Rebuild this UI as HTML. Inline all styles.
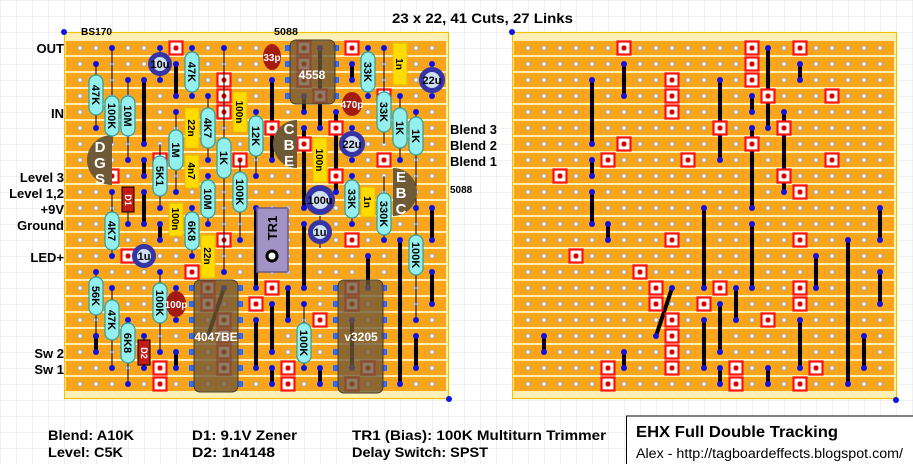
<!DOCTYPE html>
<html><head><meta charset="utf-8"><style>
html,body{margin:0;padding:0;background:#fff;}
svg{display:block;font-family:"Liberation Sans",sans-serif;}
</style></head><body>
<svg width="913" height="464" viewBox="0 0 913 464" xmlns="http://www.w3.org/2000/svg">
<defs>
<pattern id="grid" patternUnits="userSpaceOnUse" x="0" y="0" width="16" height="16"><path d="M0 0H16M0 0V16" stroke="#e2e2e2" stroke-width="1" fill="none"/></pattern>
<pattern id="strips" patternUnits="userSpaceOnUse" x="0" y="-8" width="16" height="16"><rect x="0" y="1" width="16" height="14" fill="#fba51a"/></pattern>
<pattern id="holes" patternUnits="userSpaceOnUse" x="-8" y="-8" width="16" height="16"><circle cx="8" cy="8" r="2.3" fill="#fff" stroke="#9a9a9a" stroke-width="1"/></pattern>
<g id="cut"><rect x="-6.5" y="-6.5" width="13" height="13" fill="#fff" stroke="#ff1010" stroke-width="2.2"/><circle r="2.6" fill="#e00000"/></g>
<g id="cl">
<g stroke="#000" stroke-width="4">
<line x1="144" y1="80" x2="144" y2="144"/><line x1="176" y1="64" x2="176" y2="96"/>
<line x1="320" y1="48" x2="320" y2="128"/><line x1="352" y1="64" x2="352" y2="80"/>
<line x1="272" y1="80" x2="272" y2="160"/><line x1="304" y1="96" x2="304" y2="112"/>
<line x1="304" y1="128" x2="304" y2="208"/><line x1="336" y1="112" x2="336" y2="192"/>
<line x1="144" y1="160" x2="144" y2="176"/><line x1="144" y1="192" x2="144" y2="224"/>
<line x1="160" y1="224" x2="160" y2="240"/><line x1="256" y1="208" x2="256" y2="288"/>
<line x1="304" y1="224" x2="304" y2="288"/><line x1="432" y1="208" x2="432" y2="240"/>
<line x1="432" y1="272" x2="432" y2="304"/><line x1="400" y1="240" x2="400" y2="384"/>
<line x1="368" y1="256" x2="368" y2="288"/><line x1="224" y1="288" x2="208" y2="336"/>
<line x1="288" y1="288" x2="288" y2="320"/><line x1="272" y1="304" x2="272" y2="352"/>
<line x1="256" y1="320" x2="256" y2="368"/><line x1="352" y1="320" x2="352" y2="368"/>
<line x1="96" y1="336" x2="96" y2="352"/><line x1="176" y1="352" x2="176" y2="368"/>
<line x1="416" y1="336" x2="416" y2="368"/><line x1="272" y1="368" x2="272" y2="384"/>
<line x1="320" y1="368" x2="320" y2="384"/>
</g>
<g fill="#0a14e6">
<circle cx="144" cy="80" r="3"/><circle cx="144" cy="144" r="3"/><circle cx="176" cy="64" r="3"/><circle cx="176" cy="96" r="3"/>
<circle cx="320" cy="48" r="3"/><circle cx="320" cy="128" r="3"/><circle cx="352" cy="64" r="3"/><circle cx="352" cy="80" r="3"/>
<circle cx="272" cy="80" r="3"/><circle cx="272" cy="160" r="3"/><circle cx="304" cy="96" r="3"/><circle cx="304" cy="112" r="3"/>
<circle cx="304" cy="128" r="3"/><circle cx="304" cy="208" r="3"/><circle cx="336" cy="112" r="3"/><circle cx="336" cy="192" r="3"/>
<circle cx="144" cy="160" r="3"/><circle cx="144" cy="176" r="3"/><circle cx="144" cy="192" r="3"/><circle cx="144" cy="224" r="3"/>
<circle cx="160" cy="224" r="3"/><circle cx="160" cy="240" r="3"/><circle cx="256" cy="208" r="3"/><circle cx="256" cy="288" r="3"/>
<circle cx="304" cy="224" r="3"/><circle cx="304" cy="288" r="3"/><circle cx="432" cy="208" r="3"/><circle cx="432" cy="240" r="3"/>
<circle cx="432" cy="272" r="3"/><circle cx="432" cy="304" r="3"/><circle cx="400" cy="240" r="3"/><circle cx="400" cy="384" r="3"/>
<circle cx="368" cy="256" r="3"/><circle cx="368" cy="288" r="3"/><circle cx="224" cy="288" r="3"/><circle cx="208" cy="336" r="3"/>
<circle cx="288" cy="288" r="3"/><circle cx="288" cy="320" r="3"/><circle cx="272" cy="304" r="3"/><circle cx="272" cy="352" r="3"/>
<circle cx="256" cy="320" r="3"/><circle cx="256" cy="368" r="3"/><circle cx="352" cy="320" r="3"/><circle cx="352" cy="368" r="3"/>
<circle cx="96" cy="336" r="3"/><circle cx="96" cy="352" r="3"/><circle cx="176" cy="352" r="3"/><circle cx="176" cy="368" r="3"/>
<circle cx="416" cy="336" r="3"/><circle cx="416" cy="368" r="3"/><circle cx="272" cy="368" r="3"/><circle cx="272" cy="384" r="3"/>
<circle cx="320" cy="368" r="3"/><circle cx="320" cy="384" r="3"/>
</g>
<use href="#cut" x="176" y="48"/><use href="#cut" x="304" y="48"/><use href="#cut" x="352" y="48"/>
<use href="#cut" x="304" y="64"/>
<use href="#cut" x="224" y="80"/><use href="#cut" x="304" y="80"/>
<use href="#cut" x="224" y="96"/><use href="#cut" x="320" y="96"/><use href="#cut" x="384" y="96"/>
<use href="#cut" x="224" y="112"/>
<use href="#cut" x="272" y="128"/><use href="#cut" x="336" y="128"/>
<use href="#cut" x="176" y="144"/><use href="#cut" x="304" y="144"/>
<use href="#cut" x="160" y="160"/><use href="#cut" x="240" y="160"/><use href="#cut" x="384" y="160"/>
<use href="#cut" x="112" y="176"/><use href="#cut" x="336" y="176"/>
<use href="#cut" x="352" y="192"/>
<use href="#cut" x="224" y="240"/><use href="#cut" x="352" y="240"/>
<use href="#cut" x="128" y="256"/>
<use href="#cut" x="192" y="272"/>
<use href="#cut" x="208" y="288"/><use href="#cut" x="272" y="288"/><use href="#cut" x="352" y="288"/>
<use href="#cut" x="208" y="304"/><use href="#cut" x="256" y="304"/><use href="#cut" x="352" y="304"/>
<use href="#cut" x="224" y="320"/><use href="#cut" x="320" y="320"/>
<use href="#cut" x="224" y="336"/>
<use href="#cut" x="224" y="352"/>
<use href="#cut" x="160" y="368"/><use href="#cut" x="224" y="368"/><use href="#cut" x="288" y="368"/><use href="#cut" x="368" y="368"/>
<use href="#cut" x="160" y="384"/><use href="#cut" x="288" y="384"/><use href="#cut" x="352" y="384"/>
</g>
<g id="board">
<rect x="64.5" y="32.5" width="384" height="366" fill="#fdf0b6" stroke="#f2c200" stroke-width="1.2"/>
<rect x="66" y="40" width="380" height="352" fill="url(#strips)"/>
<rect x="72" y="40" width="368" height="352" fill="url(#holes)"/>
</g>
</defs>
<rect width="913" height="464" fill="url(#grid)"/>
<use href="#board"/>
<use href="#board" transform="translate(448,0)"/>
<use href="#cl"/>
<use href="#cl" transform="translate(448,0)"/>
<g fill="#0a14e6"><circle cx="64" cy="32" r="3"/><circle cx="449" cy="399" r="3"/><circle cx="512" cy="32" r="3"/><circle cx="896" cy="400" r="3"/></g>

<g stroke="#000" stroke-width="1">
<line x1="96" y1="64" x2="96" y2="128"/><line x1="112" y1="48" x2="112" y2="144"/><line x1="128" y1="80" x2="128" y2="160"/>
<line x1="192" y1="48" x2="192" y2="96"/><line x1="208" y1="96" x2="208" y2="160"/><line x1="256" y1="112" x2="256" y2="176"/>
<line x1="176" y1="112" x2="176" y2="192"/><line x1="224" y1="48" x2="224" y2="272"/><line x1="160" y1="144" x2="160" y2="208"/>
<line x1="208" y1="176" x2="208" y2="224"/><line x1="240" y1="160" x2="240" y2="240"/><line x1="112" y1="192" x2="112" y2="256"/>
<line x1="192" y1="208" x2="192" y2="256"/><line x1="96" y1="272" x2="96" y2="336"/><line x1="112" y1="288" x2="112" y2="368"/>
<line x1="128" y1="320" x2="128" y2="384"/><line x1="160" y1="272" x2="160" y2="352"/><line x1="368" y1="48" x2="368" y2="96"/>
<line x1="384" y1="48" x2="384" y2="144"/><line x1="400" y1="96" x2="400" y2="160"/><line x1="416" y1="112" x2="416" y2="208"/>
<line x1="352" y1="176" x2="352" y2="224"/><line x1="384" y1="176" x2="384" y2="240"/><line x1="304" y1="304" x2="304" y2="368"/>
<line x1="416" y1="208" x2="416" y2="320"/><line x1="128" y1="192" x2="128" y2="224"/><line x1="144" y1="336" x2="144" y2="368"/>
<line x1="160" y1="48" x2="160" y2="80"/><line x1="176" y1="288" x2="176" y2="320"/><line x1="272" y1="48" x2="272" y2="64"/>
<line x1="352" y1="96" x2="352" y2="112"/><line x1="320" y1="216" x2="320" y2="248"/>
</g>
<g fill="#0a14e6">
<circle cx="96" cy="64" r="3"/><circle cx="96" cy="128" r="3"/><circle cx="112" cy="48" r="3"/><circle cx="128" cy="80" r="3"/><circle cx="128" cy="160" r="3"/>
<circle cx="192" cy="48" r="3"/><circle cx="192" cy="96" r="3"/><circle cx="208" cy="96" r="3"/><circle cx="208" cy="160" r="3"/><circle cx="256" cy="112" r="3"/><circle cx="256" cy="176" r="3"/>
<circle cx="176" cy="112" r="3"/><circle cx="176" cy="192" r="3"/><circle cx="224" cy="48" r="3"/><circle cx="224" cy="272" r="3"/><circle cx="160" cy="208" r="3"/>
<circle cx="208" cy="176" r="3"/><circle cx="208" cy="224" r="3"/><circle cx="240" cy="240" r="3"/><circle cx="112" cy="192" r="3"/><circle cx="112" cy="256" r="3"/>
<circle cx="192" cy="208" r="3"/><circle cx="192" cy="256" r="3"/><circle cx="96" cy="272" r="3"/><circle cx="96" cy="336" r="3"/><circle cx="112" cy="288" r="3"/><circle cx="112" cy="368" r="3"/>
<circle cx="128" cy="320" r="3"/><circle cx="128" cy="384" r="3"/><circle cx="160" cy="272" r="3"/><circle cx="160" cy="352" r="3"/><circle cx="368" cy="48" r="3"/><circle cx="368" cy="96" r="3"/>
<circle cx="384" cy="48" r="3"/><circle cx="400" cy="96" r="3"/><circle cx="400" cy="160" r="3"/><circle cx="416" cy="112" r="3"/><circle cx="416" cy="208" r="3"/>
<circle cx="352" cy="176" r="3"/><circle cx="352" cy="224" r="3"/><circle cx="384" cy="240" r="3"/><circle cx="304" cy="304" r="3"/><circle cx="304" cy="368" r="3"/><circle cx="416" cy="320" r="3"/>
<circle cx="128" cy="224" r="3"/><circle cx="144" cy="336" r="3"/><circle cx="144" cy="368" r="3"/><circle cx="160" cy="48" r="3"/><circle cx="160" cy="80" r="3"/>
<circle cx="176" cy="288" r="3"/><circle cx="176" cy="320" r="3"/><circle cx="272" cy="48" r="3"/><circle cx="272" cy="64" r="3"/><circle cx="240" cy="96" r="3"/><circle cx="240" cy="128" r="3"/>
<circle cx="192" cy="112" r="3"/><circle cx="192" cy="144" r="3"/><circle cx="400" cy="48" r="3"/><circle cx="400" cy="80" r="3"/><circle cx="320" cy="144" r="3"/><circle cx="320" cy="176" r="3"/>
<circle cx="432" cy="64" r="3"/><circle cx="432" cy="96" r="3"/><circle cx="352" cy="128" r="3"/><circle cx="352" cy="160" r="3"/>
</g>

<g fill="#6f5a38">
<path d="M112 135 A25 25 0 0 0 112 185 Z"/>
<path d="M297 120 A24 24 0 0 0 297 168 Z"/>
<path d="M393 168 A24 24 0 0 1 393 216 Z"/>
</g>
<g fill="#fff" font-weight="bold" font-size="15" text-anchor="middle">
<text x="100" y="152">D</text><text x="100" y="168">G</text><text x="100" y="184">S</text>
<text x="289" y="134">C</text><text x="289" y="150">B</text><text x="289" y="166">E</text>
<text x="401" y="182">E</text><text x="401" y="198">B</text><text x="401" y="214">C</text>
</g>

<g fill="#ffdc00" stroke="#e8b800" stroke-width="1">
<rect x="233" y="92" width="14" height="40"/><rect x="185" y="108" width="14" height="40"/><rect x="185" y="155" width="14" height="33"/>
<rect x="169" y="203" width="14" height="33"/><rect x="201" y="235" width="14" height="43"/><rect x="313" y="138" width="14" height="44"/>
<rect x="393" y="43" width="14" height="42"/><rect x="361" y="187" width="14" height="30"/>
</g>
<g fill="#93f0ee" stroke="#2e9e9e" stroke-width="1.2">
<rect x="89" y="75" width="14" height="40" rx="7"/><rect x="105" y="96" width="14" height="40" rx="7"/><rect x="121" y="96" width="14" height="40" rx="7"/>
<rect x="185" y="52" width="14" height="40" rx="7"/><rect x="201" y="108" width="14" height="40" rx="7"/><rect x="249" y="116" width="14" height="40" rx="7"/>
<rect x="169" y="130" width="14" height="40" rx="7"/><rect x="217" y="138" width="14" height="40" rx="7"/><rect x="153" y="156" width="14" height="40" rx="7"/>
<rect x="201" y="180" width="14" height="38" rx="7"/><rect x="233" y="172" width="14" height="40" rx="7"/><rect x="105" y="212" width="14" height="38" rx="7"/>
<rect x="185" y="212" width="14" height="38" rx="7"/><rect x="89" y="277" width="14" height="38" rx="7"/><rect x="105" y="300" width="14" height="40" rx="7"/>
<rect x="121" y="323" width="14" height="40" rx="7"/><rect x="153" y="283" width="14" height="40" rx="7"/><rect x="361" y="52" width="14" height="40" rx="7"/>
<rect x="377" y="92" width="14" height="40" rx="7"/><rect x="393" y="108" width="14" height="40" rx="7"/><rect x="409" y="117" width="14" height="38" rx="7"/>
<rect x="345" y="180" width="14" height="38" rx="7"/><rect x="377" y="193" width="14" height="42" rx="7"/><rect x="297" y="323" width="14" height="40" rx="7"/>
<rect x="409" y="235" width="14" height="40" rx="7"/>
</g>
<g font-weight="bold" font-size="11" text-anchor="middle" fill="#000">
<text transform="translate(96,95) rotate(90)" dy="4">47K</text>
<text transform="translate(112,116) rotate(90)" dy="4">100K</text>
<text transform="translate(128,116) rotate(90)" dy="4">10M</text>
<text transform="translate(192,72) rotate(90)" dy="4">47K</text>
<text transform="translate(208,128) rotate(90)" dy="4">4K7</text>
<text transform="translate(256,136) rotate(90)" dy="4">12K</text>
<text transform="translate(176,150) rotate(90)" dy="4">1M</text>
<text transform="translate(224,158) rotate(90)" dy="4">1K</text>
<text transform="translate(160,176) rotate(90)" dy="4">5K1</text>
<text transform="translate(208,199) rotate(90)" dy="4">10M</text>
<text transform="translate(240,192) rotate(90)" dy="4">100K</text>
<text transform="translate(112,231) rotate(90)" dy="4">4K7</text>
<text transform="translate(192,231) rotate(90)" dy="4">6K8</text>
<text transform="translate(96,296) rotate(90)" dy="4">56K</text>
<text transform="translate(112,320) rotate(90)" dy="4">47K</text>
<text transform="translate(128,343) rotate(90)" dy="4">6K8</text>
<text transform="translate(160,303) rotate(90)" dy="4">100K</text>
<text transform="translate(368,72) rotate(90)" dy="4">33K</text>
<text transform="translate(384,112) rotate(90)" dy="4">33K</text>
<text transform="translate(400,128) rotate(90)" dy="4">1K</text>
<text transform="translate(416,136) rotate(90)" dy="4">1K</text>
<text transform="translate(352,199) rotate(90)" dy="4">33K</text>
<text transform="translate(384,214) rotate(90)" dy="4">330K</text>
<text transform="translate(304,343) rotate(90)" dy="4">100K</text>
<text transform="translate(416,255) rotate(90)" dy="4">100K</text>
<g font-size="10">
<text transform="translate(240,112) rotate(90)" dy="4">100n</text>
<text transform="translate(192,128) rotate(90)" dy="4">22n</text>
<text transform="translate(192,171) rotate(90)" dy="4">4n7</text>
<text transform="translate(176,219) rotate(90)" dy="4">100n</text>
<text transform="translate(208,256) rotate(90)" dy="4">22n</text>
<text transform="translate(320,160) rotate(90)" dy="4">100n</text>
<text transform="translate(400,64) rotate(90)" dy="4">1n</text>
<text transform="translate(368,202) rotate(90)" dy="4">1n</text>
</g>
</g>

<rect x="122" y="187" width="12" height="25" fill="#c41a14" stroke="#000" stroke-width="1"/>
<rect x="138" y="340" width="12" height="25" fill="#c41a14" stroke="#000" stroke-width="1"/>
<g fill="#fff" font-size="9" font-weight="bold" text-anchor="middle">
<text transform="translate(128,200) rotate(90)" dy="3">D1</text>
<text transform="translate(144,353) rotate(90)" dy="3">D2</text>
</g>

<g fill="#a41c10">
<ellipse cx="272" cy="57" rx="9" ry="13"/><ellipse cx="352" cy="104" rx="10" ry="12"/><ellipse cx="176" cy="304" rx="10" ry="13"/>
</g>
<g fill="#fff" font-size="10" font-weight="bold" text-anchor="middle">
<text x="272" y="61">33p</text><text x="352" y="108">470p</text><text x="176" y="308">100p</text>
</g>

<g stroke="#3535a8" fill="#cfe0f4">
<circle cx="160" cy="64" r="9.5" stroke-width="5"/>
<circle cx="432" cy="80" r="10.5" stroke-width="5"/>
<circle cx="352" cy="144" r="10.5" stroke-width="5"/>
<circle cx="320" cy="200" r="12" stroke-width="6"/>
<circle cx="320" cy="232" r="9.5" stroke-width="5"/>
<circle cx="144" cy="256" r="9.5" stroke-width="5"/>
</g>
<g font-size="11" font-weight="bold" text-anchor="middle" fill="#000">
<text x="160" y="68">10u</text><text x="432" y="84">22u</text><text x="352" y="148">22u</text>
<text x="320" y="204">100u</text><text x="320" y="236">1u</text><text x="144" y="260">1u</text>
</g>

<rect x="257" y="208" width="31" height="64" fill="#a392c4" stroke="#6a5a8e" stroke-width="1.5"/>
<text transform="translate(272,228) rotate(-90)" text-anchor="middle" font-weight="bold" font-size="13" dy="5">TR1</text>
<circle cx="272" cy="256" r="5" fill="#fff" stroke="#000" stroke-width="3"/>

<g fill="#2a6cff">
<rect x="285" y="45" width="6" height="6"/><rect x="285" y="61" width="6" height="6"/><rect x="285" y="77" width="6" height="6"/><rect x="285" y="93" width="6" height="6"/>
<rect x="333" y="45" width="6" height="6"/><rect x="333" y="61" width="6" height="6"/><rect x="333" y="77" width="6" height="6"/><rect x="333" y="93" width="6" height="6"/>
<rect x="189" y="285" width="6" height="6"/><rect x="189" y="301" width="6" height="6"/><rect x="189" y="317" width="6" height="6"/><rect x="189" y="333" width="6" height="6"/><rect x="189" y="349" width="6" height="6"/><rect x="189" y="365" width="6" height="6"/><rect x="189" y="381" width="6" height="6"/>
<rect x="237" y="285" width="6" height="6"/><rect x="237" y="301" width="6" height="6"/><rect x="237" y="317" width="6" height="6"/><rect x="237" y="333" width="6" height="6"/><rect x="237" y="349" width="6" height="6"/><rect x="237" y="365" width="6" height="6"/><rect x="237" y="381" width="6" height="6"/>
<rect x="333" y="285" width="6" height="6"/><rect x="333" y="301" width="6" height="6"/><rect x="333" y="317" width="6" height="6"/><rect x="333" y="333" width="6" height="6"/><rect x="333" y="349" width="6" height="6"/><rect x="333" y="365" width="6" height="6"/><rect x="333" y="381" width="6" height="6"/>
<rect x="381" y="285" width="6" height="6"/><rect x="381" y="301" width="6" height="6"/><rect x="381" y="317" width="6" height="6"/><rect x="381" y="333" width="6" height="6"/><rect x="381" y="349" width="6" height="6"/><rect x="381" y="365" width="6" height="6"/><rect x="381" y="381" width="6" height="6"/>
</g>
<g fill="#6e5838" fill-opacity="0.78" stroke="#4a3a22" stroke-width="1">
<rect x="290" y="40" width="45" height="64" rx="6"/>
<rect x="194" y="280" width="44" height="112" rx="6"/>
<rect x="338" y="280" width="45" height="113" rx="6"/>
</g>
<g fill="#fff" font-weight="bold" font-size="12" text-anchor="middle">
<text x="312" y="79">4558</text><text x="216" y="341">4047BE</text><text x="361" y="341">v3205</text>
</g>

<g font-weight="bold" font-size="13" fill="#000">
<g text-anchor="end">
<text x="64" y="53">OUT</text><text x="64" y="118">IN</text><text x="64" y="182">Level 3</text>
<text x="64" y="198">Level 1,2</text><text x="64" y="214">+9V</text><text x="64" y="230">Ground</text>
<text x="64" y="262">LED+</text><text x="64" y="358">Sw 2</text><text x="64" y="374">Sw 1</text>
</g>
<text x="450" y="134">Blend 3</text><text x="450" y="150">Blend 2</text><text x="450" y="166">Blend 1</text>
<text x="392" y="23" font-size="14" textLength="181" lengthAdjust="spacingAndGlyphs">23 x 22, 41 Cuts, 27 Links</text>
</g>
<g font-weight="bold" font-size="10" fill="#000">
<text x="81" y="35" textLength="31" lengthAdjust="spacingAndGlyphs">BS170</text><text x="274" y="35" textLength="24" lengthAdjust="spacingAndGlyphs">5088</text><text x="450" y="193">5088</text>
</g>
<g font-weight="bold" font-size="14" fill="#000">
<text x="48" y="440" textLength="86" lengthAdjust="spacingAndGlyphs">Blend: A10K</text>
<text x="48" y="457" textLength="75" lengthAdjust="spacingAndGlyphs">Level: C5K</text>
<text x="192" y="440" textLength="105" lengthAdjust="spacingAndGlyphs">D1: 9.1V Zener</text>
<text x="192" y="457" textLength="83" lengthAdjust="spacingAndGlyphs">D2: 1n4148</text>
<text x="352" y="440" textLength="254" lengthAdjust="spacingAndGlyphs">TR1 (Bias): 100K Multiturn Trimmer</text>
<text x="352" y="457" textLength="136" lengthAdjust="spacingAndGlyphs">Delay Switch: SPST</text>
</g>
<rect x="626.5" y="416" width="290" height="52" fill="#fff" stroke="#000" stroke-width="1"/>
<text x="636" y="437" font-weight="bold" font-size="16" textLength="202" lengthAdjust="spacingAndGlyphs">EHX Full Double Tracking</text>
<text x="636" y="458" font-size="13.5" textLength="267" lengthAdjust="spacingAndGlyphs">Alex - http://tagboardeffects.blogspot.com/</text>
</svg>
</body></html>
